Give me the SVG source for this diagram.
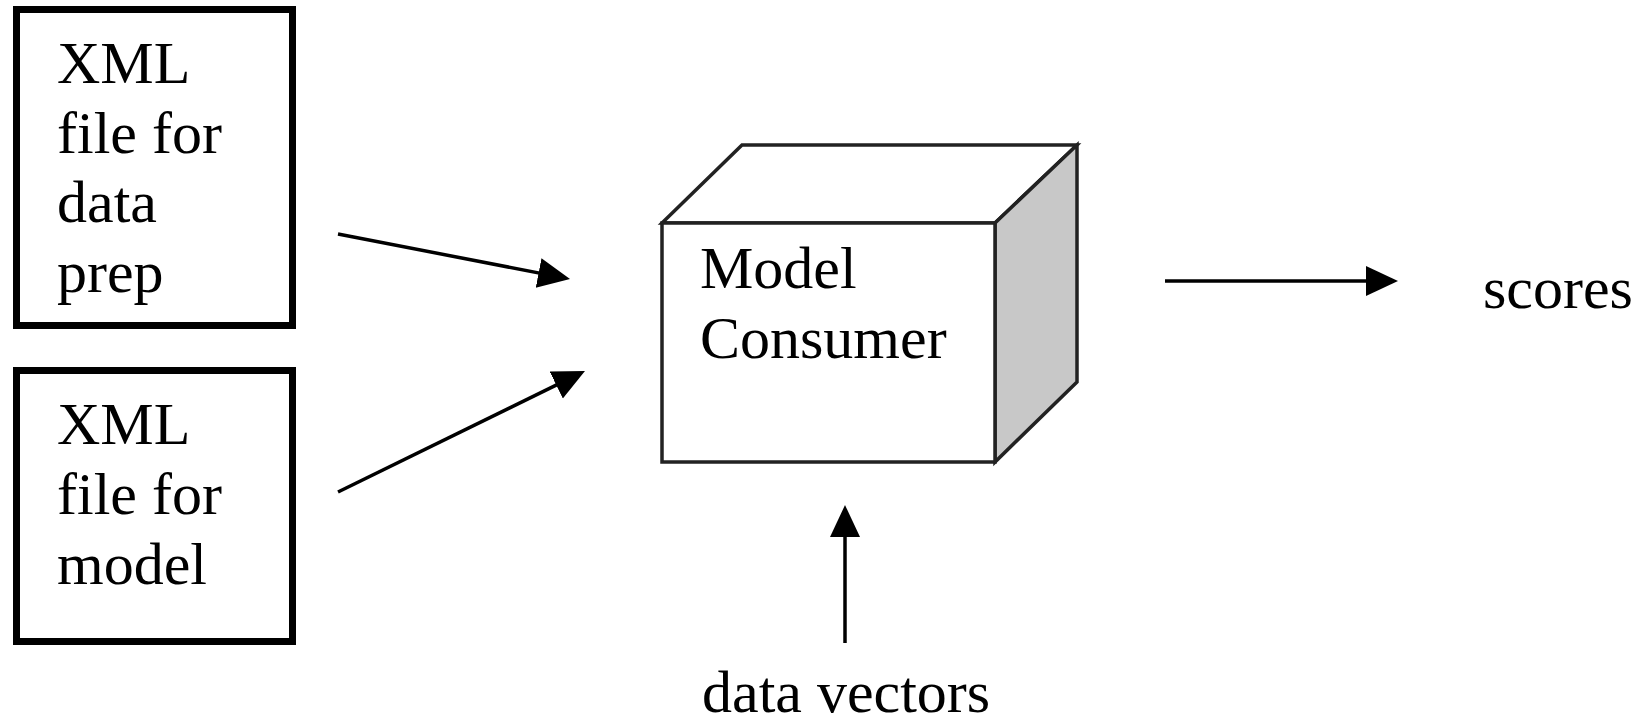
<svg xmlns="http://www.w3.org/2000/svg" width="1642" height="722" viewBox="0 0 1642 722">
<style>
.box{fill:#fff;stroke:#000;stroke-width:7}
.cube{stroke:#222;stroke-width:3.5;stroke-linejoin:miter}
.t{font-family:"Liberation Serif","Times New Roman",serif;font-size:60px;fill:#000}
.con{stroke:#000;stroke-width:3.5;fill:none;marker-end:url(#ah)}
</style>
<defs>
<marker id="ah" markerUnits="userSpaceOnUse" markerWidth="34" markerHeight="32" refX="22" refY="15" orient="auto" viewBox="0 0 34 32">
<path d="M0,0 L32,15 L0,30 z" fill="#000"/>
</marker>
</defs>
<rect width="1642" height="722" fill="#fff"/>
<g id="xml-dataprep">
<rect class="box" x="16.5" y="9.5" width="276" height="316"/>
<text class="t" x="57" y="83">XML</text>
<text class="t" x="57" y="153">file for</text>
<text class="t" x="57" y="222">data</text>
<text class="t" x="57" y="292">prep</text>
</g>
<g id="xml-model">
<rect class="box" x="16.5" y="370.5" width="276" height="271"/>
<text class="t" x="57" y="444">XML</text>
<text class="t" x="57" y="514">file for</text>
<text class="t" x="57" y="584">model</text>
</g>
<g id="model-consumer">
<polygon class="cube" fill="#fff" points="662,223 742,145 1077,145 995,223"/>
<polygon class="cube" fill="#c8c8c8" points="995,223 1077,145 1077,382 995,462"/>
<rect class="cube" fill="#fff" x="662" y="223" width="333" height="239"/>
<text class="t" x="700" y="288">Model</text>
<text class="t" x="700" y="358">Consumer</text>
</g>
<g id="scores">
<text class="t" x="1483" y="308">scores</text>
</g>
<g id="data-vectors">
<text class="t" x="702" y="712">data vectors</text>
</g>
<g id="connectors">
<line class="con" x1="338" y1="234" x2="560.2" y2="277.1"/>
<line class="con" x1="338" y1="492" x2="576" y2="375.4"/>
<line class="con" x1="1165" y1="281" x2="1388" y2="281"/>
<line class="con" x1="845" y1="643" x2="845" y2="515"/>
</g>
</svg>
